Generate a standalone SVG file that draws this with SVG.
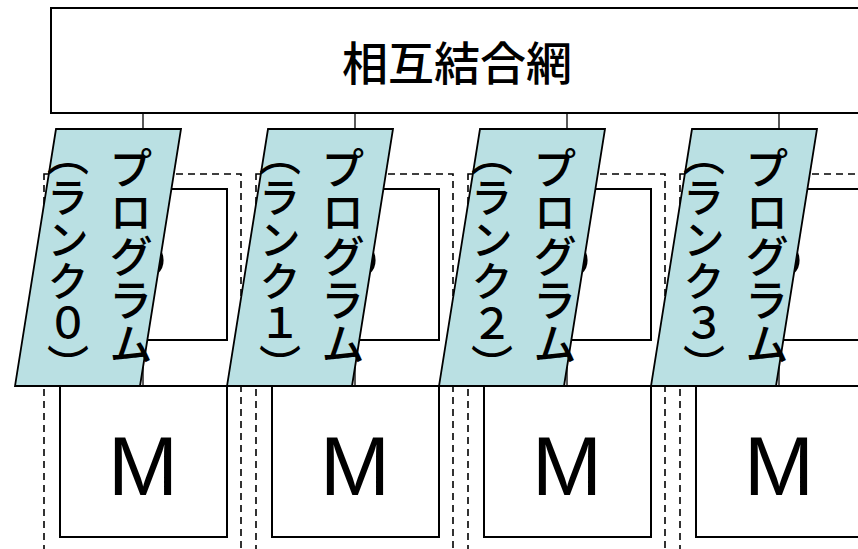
<svg xmlns="http://www.w3.org/2000/svg" width="858" height="549" viewBox="0 0 858 549">
<style>
.box{fill:#fff;stroke:#000;stroke-width:2}
.dash{fill:none;stroke:#000;stroke-width:1.6;stroke-dasharray:7 5}
.para{fill:#BAE0E3;stroke:#000;stroke-width:1.8}
.ln{stroke:#000;stroke-width:1.3;fill:none}
.big{font-family:"Liberation Sans",Arial,sans-serif;font-size:84px;text-anchor:middle;fill:#000}
.jp{font-family:"Noto Sans CJK JP","Noto Sans CJK SC",sans-serif;fill:#000}
.vt{font-family:"Noto Sans CJK JP","Noto Sans CJK SC",sans-serif;font-size:44px;font-weight:500;writing-mode:vertical-rl;fill:#000}
.vt2{font-size:42px}
</style>
<defs>
<g id="unit">
<rect class="dash" x="44" y="174" width="197" height="400"/>
<rect class="box" x="60" y="189" width="167" height="151"/>
<text class="big" x="140" y="300">P</text>
</g>
</defs>
<g id="network">
<rect class="box" x="51" y="8" width="830" height="105"/>
<text class="jp" x="457" y="80" font-size="46" font-weight="500" text-anchor="middle">相互結合網</text>
</g>
<g id="connectors">
<line class="ln" x1="143" y1="113" x2="143" y2="129"/>
<line class="ln" x1="355" y1="113" x2="355" y2="129"/>
<line class="ln" x1="567" y1="113" x2="567" y2="129"/>
<line class="ln" x1="779" y1="113" x2="779" y2="129"/>
<line class="ln" x1="143" y1="340" x2="143" y2="386"/>
<line class="ln" x1="355" y1="340" x2="355" y2="386"/>
<line class="ln" x1="567" y1="340" x2="567" y2="386"/>
<line class="ln" x1="779" y1="340" x2="779" y2="386"/>
</g>
<g id="node0">
<use href="#unit"/>
<rect class="box" x="60" y="386" width="167" height="151"/>
<text class="big" x="143" y="495">M</text>
<polygon class="para" points="56,129 181,129 140,386 15,386"/>
<text class="vt" x="131" y="146">プログラム</text>
<text class="vt vt2" x="68" y="134">（ランク０）</text>
</g>
<g id="node1">
<use href="#unit" transform="translate(212,0)"/>
<rect class="box" x="272" y="386" width="167" height="151"/>
<text class="big" x="355" y="495">M</text>
<polygon class="para" points="268,129 393,129 352,386 227,386"/>
<text class="vt" x="343" y="146">プログラム</text>
<text class="vt vt2" x="280" y="134">（ランク１）</text>
</g>
<g id="node2">
<use href="#unit" transform="translate(424,0)"/>
<rect class="box" x="484" y="386" width="167" height="151"/>
<text class="big" x="567" y="495">M</text>
<polygon class="para" points="480,129 605,129 564,386 439,386"/>
<text class="vt" x="555" y="146">プログラム</text>
<text class="vt vt2" x="492" y="134">（ランク２）</text>
</g>
<g id="node3">
<use href="#unit" transform="translate(636,0)"/>
<rect class="box" x="696" y="386" width="167" height="151"/>
<text class="big" x="779" y="495">M</text>
<polygon class="para" points="692,129 817,129 776,386 651,386"/>
<text class="vt" x="767" y="146">プログラム</text>
<text class="vt vt2" x="704" y="134">（ランク３）</text>
</g>
</svg>
